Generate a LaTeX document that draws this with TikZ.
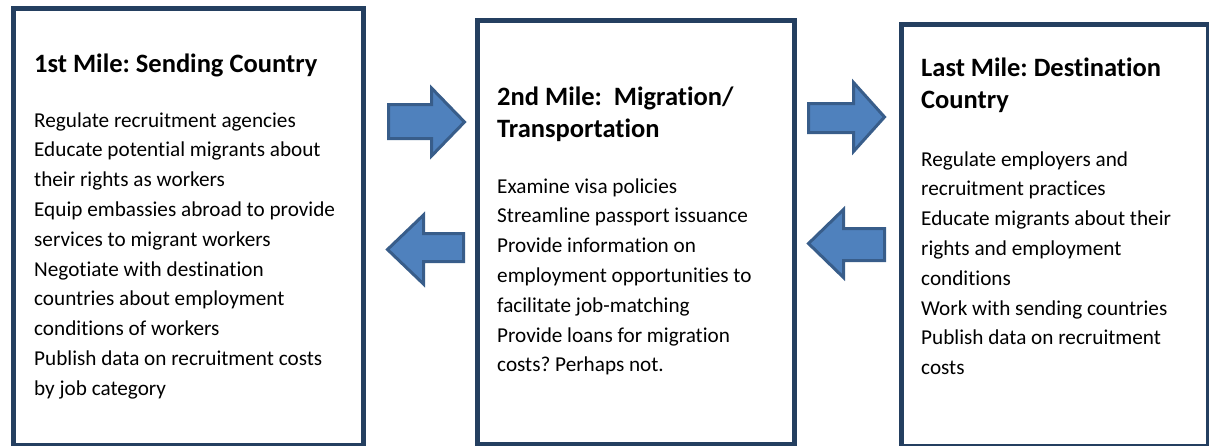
\documentclass[tikz,border=0pt]{standalone}
\usepackage{fontspec}
\setmainfont{Carlito}[RawFeature={-liga;-clig;-calt;-dlig}]
\frenchspacing
\definecolor{boxline}{HTML}{243F60}
\definecolor{arrowfill}{HTML}{4F81BD}
\definecolor{arrowline}{HTML}{385D8A}
\begin{document}
\begin{tikzpicture}[x=1pt,y=-1pt,
  milebox/.style={draw=boxline,line width=5pt,rectangle,inner sep=0pt,anchor=north west},
  blockarrow/.style={fill=arrowfill,draw=arrowline,line width=3pt,line join=miter},
  headtext/.style={anchor=base west,inner sep=0pt,align=left,
    font=\fontsize{26.5}{32.5}\selectfont\bfseries},
  bodytext/.style={anchor=base west,inner sep=0pt,align=left,
    font=\fontsize{21.2}{29.8}\selectfont}]
\useasboundingbox (0,0) rectangle (1209,445);

% the three stages
\node[milebox,minimum width=350pt,minimum height=437pt] (first) at (10.5,5.5) {};
\node[milebox,minimum width=317pt,minimum height=424.5pt] (second) at (474.5,17.5) {};
\node[milebox,minimum width=307pt,minimum height=421.5pt] (last) at (899,22) {};

% text blocks are placed by the baseline of their last line
% first mile
\node[headtext] (firsthead) at (34,72) {1st Mile: Sending Country};
\node[bodytext] (firstbody) at (34,395.2) {Regulate recruitment agencies\\
Educate potential migrants about\\
their rights as workers\\
Equip embassies abroad to provide\\
services to migrant workers\\
Negotiate with destination\\
countries about employment\\
conditions of workers\\
Publish data on recruitment costs\\
by job category};

% second mile
\node[headtext] (secondhead) at (497,137.5) {2nd Mile:\ \ Migration/\\Transportation};
\node[bodytext] (secondbody) at (497,371.8) {Examine visa policies\\
Streamline passport issuance\\
Provide information on\\
employment opportunities to\\
facilitate job-matching\\
Provide loans for migration\\
costs? Perhaps not.};

% last mile
\node[headtext] (lasthead) at (921,108.5) {Last Mile: Destination\\Country};
\node[bodytext] (lastbody) at (921,374.6) {Regulate employers and\\
recruitment practices\\
Educate migrants about their\\
rights and employment\\
conditions\\
Work with sending countries\\
Publish data on recruitment\\
costs};

% block arrows between the stages
\draw[blockarrow] (388.5,104.5) -- (431.5,104.5) -- (431.5,88) -- (464.5,122)
  -- (431.5,156) -- (431.5,138.5) -- (388.5,138.5) -- cycle;
\draw[blockarrow] (463.5,233.5) -- (423.5,233.5) -- (423.5,215) -- (387.5,249.5)
  -- (423.5,284) -- (423.5,261.5) -- (463.5,261.5) -- cycle;
\draw[blockarrow] (808.5,103.5) -- (853.5,103.5) -- (853.5,82.5) -- (884.5,117)
  -- (853.5,151.5) -- (853.5,132.5) -- (808.5,132.5) -- cycle;
\draw[blockarrow] (884.5,228.5) -- (843.5,228.5) -- (843.5,209.5) -- (808.5,243.5)
  -- (843.5,277.5) -- (843.5,260.5) -- (884.5,260.5) -- cycle;
\end{tikzpicture}
\end{document}
